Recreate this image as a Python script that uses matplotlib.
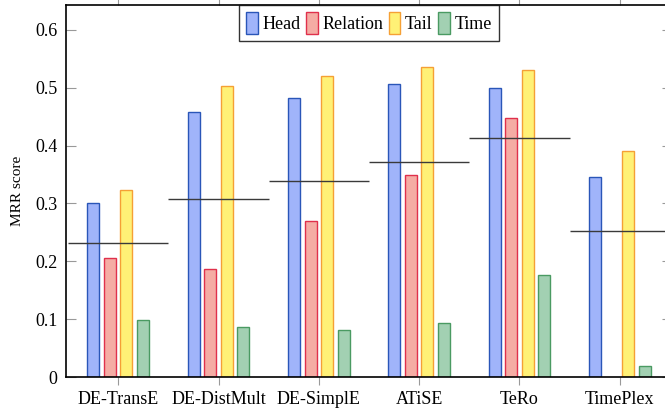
import numpy as np
import matplotlib.pyplot as plt
from matplotlib.patches import Patch

plt.rcParams['font.family'] = ['Liberation Serif', 'DejaVu Serif']

# MRR per model and query type (TimePlex has no relation score)
models = ['DE-TransE', 'DE-DistMult', 'DE-SimplE', 'ATiSE', 'TeRo', 'TimePlex']
series = ['Head', 'Relation', 'Tail', 'Time']
head = [0.300, 0.458, 0.482, 0.506, 0.500, 0.345]
relation = [0.205, 0.186, 0.270, 0.349, 0.448, np.nan]
tail = [0.323, 0.503, 0.521, 0.536, 0.530, 0.391]
time = [0.098, 0.087, 0.081, 0.093, 0.176, 0.019]

fills = ['#a0b4fa', '#f5aca4', '#fff176', '#a2d0b2']
edges = ['#2a56b8', '#e0304c', '#f5a035', '#4a9a62']

fig = plt.figure(figsize=(6.65, 4.15), dpi=100)
ax = fig.add_axes([66 / 665, 38 / 415, 606 / 665, 372 / 415])

x = np.arange(len(models))
width = 0.12
offsets = np.array([-1.5, -0.5, 0.5, 1.5]) * 0.165
data = np.array([head, relation, tail, time])

for vals, off, fc, ec in zip(data, offsets, fills, edges):
    ax.bar(x + off, vals, width, color=fc, edgecolor=ec, linewidth=1.0, zorder=2)

# average over the available query types per model
means = np.nanmean(data, axis=0)
for xi, m in zip(x, means):
    ax.hlines(m, xi - 0.5, xi + 0.5, color='#3a3a3a', linewidth=1.0, zorder=3)

ax.set_xlim(-0.52, 5.52)
ax.set_ylim(0, 0.643)
ax.set_xticks(x)
ax.set_xticklabels(models, fontsize=13)
ax.set_yticks(np.arange(0, 0.61, 0.1))
ax.set_yticklabels(['0', '0.1', '0.2', '0.3', '0.4', '0.5', '0.6'], fontsize=13)
ax.tick_params(axis='x', direction='out', length=6, color='#999999', top=True, pad=4)
ax.tick_params(axis='y', direction='in', length=7, color='#999999', right=True, pad=6)
ax.set_ylabel('MRR score', fontsize=11, labelpad=8)
for s in ax.spines.values():
    s.set_linewidth(1.2)

handles = [Patch(facecolor=fc, edgecolor=ec, label=lab) for fc, ec, lab in zip(fills, edges, series)]
leg = ax.legend(handles=handles, loc='upper center', bbox_to_anchor=(0.5, 1.0), ncol=4,
                fontsize=13, frameon=True, fancybox=False, edgecolor='black',
                borderaxespad=0, handlelength=0.65, handleheight=1.5, handletextpad=0.25,
                columnspacing=0.3, borderpad=0.4)
leg.get_frame().set_linewidth(1.0)

fig.savefig('out.png', dpi=100)
